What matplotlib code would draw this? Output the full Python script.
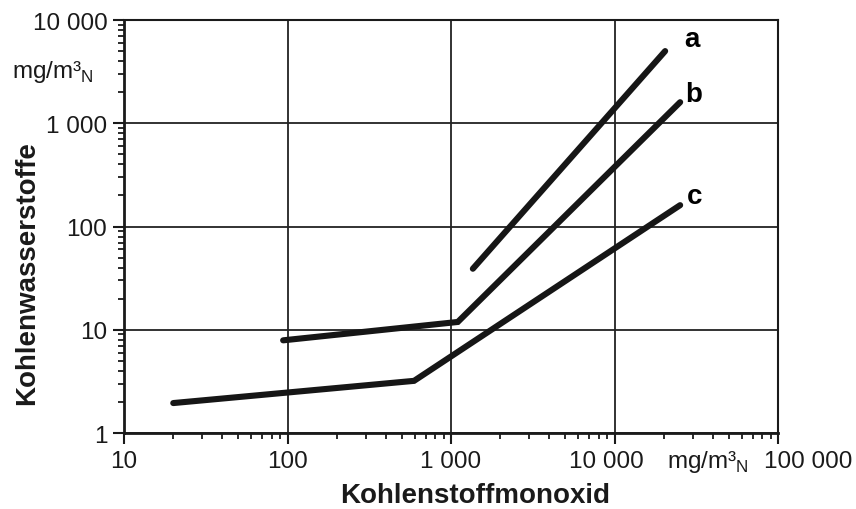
import matplotlib
matplotlib.use("Agg")
import matplotlib.pyplot as plt
import matplotlib.transforms as mtrans
from matplotlib.ticker import FixedLocator, LogLocator, NullFormatter

plt.rcParams['font.family'] = ['Liberation Sans', 'DejaVu Sans']
plt.rcParams['mathtext.fontset'] = 'custom'
plt.rcParams['mathtext.rm'] = 'Liberation Sans'

# CO vs. hydrocarbons, mg/m3 (log-log)
a_x = [1360, 20400]
a_y = [39, 5000]
b_x = [94, 1100, 25200]
b_y = [7.9, 11.9, 1600]
c_x = [20, 594, 25200]
c_y = [1.95, 3.2, 161]

x_ticks = [10, 100, 1000, 10000, 100000]
x_labels = ["10", "100", "1 000", "10 000", "100 000"]
y_ticks = [1, 10, 100, 1000, 10000]
y_labels = ["1", "10", "100", "1 000", "10 000"]

fig = plt.figure(figsize=(8.56, 5.10), dpi=100)
ax = fig.add_axes([0.1449, 0.149, 0.764, 0.8098])

for xs, ys in [(a_x, a_y), (b_x, b_y), (c_x, c_y)]:
    ax.plot(xs, ys, color="#161616", lw=4.4, solid_capstyle="round",
            solid_joinstyle="miter", zorder=3)

ax.set_xscale("log")
ax.set_yscale("log")
ax.set_xlim(10, 100000)
ax.set_ylim(1, 10000)

ax.xaxis.set_major_locator(FixedLocator(x_ticks))
ax.set_xticklabels(x_labels)
ax.yaxis.set_major_locator(FixedLocator(y_ticks))
ax.set_yticklabels(y_labels)
ax.xaxis.set_minor_locator(LogLocator(base=10, subs=range(2, 10), numticks=20))
ax.yaxis.set_minor_locator(LogLocator(base=10, subs=range(2, 10), numticks=20))
ax.xaxis.set_minor_formatter(NullFormatter())
ax.yaxis.set_minor_formatter(NullFormatter())

ax.tick_params(which="major", direction="out", length=8, width=1.5,
               labelsize=17.5, pad=4, colors="#1a1a1a")
ax.tick_params(which="minor", direction="out", length=4, width=1.3,
               colors="#1a1a1a")

# nudge the two right-most x labels sideways (unit text sits between them)
for lbl, dx in zip(ax.get_xticklabels()[3:], [-8, 30]):
    lbl.set_transform(lbl.get_transform() +
                      mtrans.ScaledTranslation(dx / 100, 0, fig.dpi_scale_trans))

ax.grid(True, which="major", color="#222222", lw=1.3)
for side in ["left", "bottom"]:
    ax.spines[side].set_linewidth(2.0)
for side in ["top", "right"]:
    ax.spines[side].set_linewidth(1.5)
for sp in ax.spines.values():
    sp.set_color("#1a1a1a")

# curve labels
ax.text(26600, 6550, "a", fontsize=20, fontweight="bold", va="center", ha="left")
ax.text(27200, 1920, "b", fontsize=20, fontweight="bold", va="center", ha="left")
ax.text(27700, 197, "c", fontsize=20, fontweight="bold", va="center", ha="left")

# units
fig.text(12 / 856, 1 - 72 / 510, r"mg/m³$_\mathrm{N}$", fontsize=17.5,
         va="center", ha="left", color="#1a1a1a")
fig.text(667 / 856, 1 - 462 / 510, r"mg/m³$_\mathrm{N}$", fontsize=17.5,
         va="center", ha="left", color="#1a1a1a")

fig.text(475 / 856, 1 - 496 / 510, "Kohlenstoffmonoxid", fontsize=20,
         fontweight="bold", ha="center", va="center", color="#1a1a1a")
fig.text(27 / 856, 1 - 273 / 510, "Kohlenwasserstoffe", fontsize=20,
         fontweight="bold", ha="center", va="center", rotation=90,
         color="#1a1a1a")

fig.savefig("out.png", dpi=100)
